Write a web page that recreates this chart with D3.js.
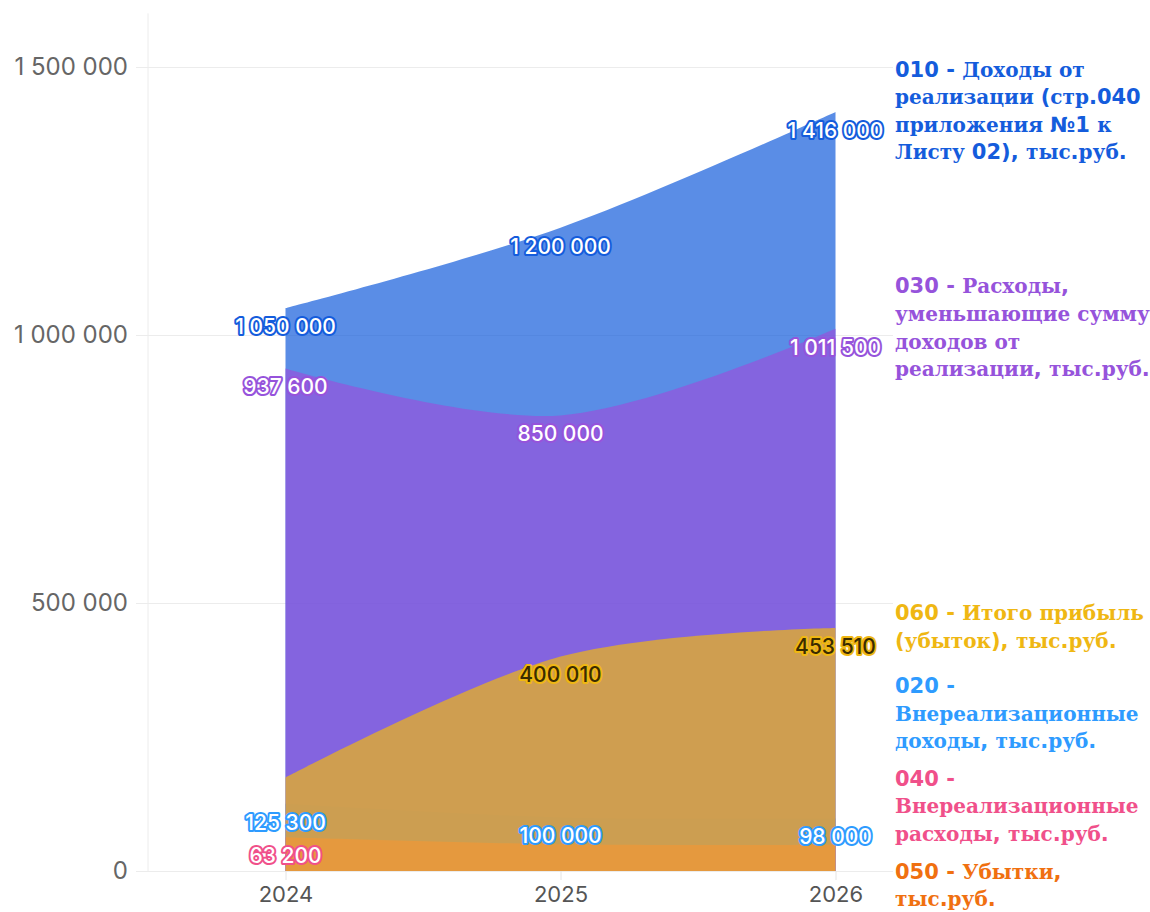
<!DOCTYPE html>
<html>
<head>
<meta charset="utf-8">
<script src="https://cdn.jsdelivr.net/npm/d3@7"></script>
<style>
  html, body { margin: 0; padding: 0; background: #fff; }
  svg { display: block; }
</style>
</head>
<body>
<svg id="chart" width="1150" height="912"></svg>
<script>
// years on the x axis
const years = ['2024', '2025', '2026'];
const yTicks = [0, 500000, 1000000, 1500000];

// series values (тыс.руб.)
const s010 = [1050000, 1200000, 1416000];
const s030 = [937600, 850000, 1011500];
const s020 = [125300, 100000, 98000];
const s040 = [63200, 49990, 48990];
const s060 = [174500, 400010, 453510];
const s050 = [0, 0, 0];

const codes = ['010', '030', '060', '020', '040', '050'];
const colors = ['#145cdc', '#9653db', '#efb713', '#2e9bff', '#f0508a', '#f07010'];
const valuesByCode = { '010': s010, '030': s030, '020': s020, '040': s040, '060': s060, '050': s050 };
// area paint order (bottom first)
const drawOrder = ['010', '020', '030', '040', '060', '050'];

const legendLines = {
  '010': ['010 - Доходы от', 'реализации (стр.040', 'приложения №1 к', 'Листу 02), тыс.руб.'],
  '030': ['030 - Расходы,', 'уменьшающие сумму', 'доходов от', 'реализации, тыс.руб.'],
  '060': ['060 - Итого прибыль', '(убыток), тыс.руб.'],
  '020': ['020 -', 'Внереализационные', 'доходы, тыс.руб.'],
  '040': ['040 -', 'Внереализационные', 'расходы, тыс.руб.'],
  '050': ['050 - Убытки,', 'тыс.руб.']
};

const color = code => colors[codes.indexOf(code)];
const fmt = d3.formatLocale({ decimal: ',', thousands: ' ', grouping: [3], currency: ['', ''] }).format(',d');

const svg = d3.select('#chart');
const plotLeft = 148, plotRight = 973, plotTop = 13.4, plotBottom = 871;

const x = d3.scalePoint().domain(years).range([plotLeft, plotRight]).padding(0.5);
const y = d3.scaleLinear().domain([0, 1600000]).range([plotBottom, plotTop]);

// grid
svg.append('g')
  .attr('class', 'grid')
  .attr('transform', `translate(${plotLeft},0)`)
  .call(d3.axisLeft(y).tickValues(yTicks).tickSize(-(plotRight - plotLeft + 12)).tickFormat(''))
  .call(g => g.select('.domain').remove())
  .call(g => g.selectAll('line').attr('stroke', '#ececec').attr('transform', 'translate(-12,0)'));

svg.append('line')
  .attr('x1', plotLeft).attr('x2', plotLeft).attr('y1', plotTop).attr('y2', plotBottom)
  .attr('stroke', '#ececec');

// y axis labels
svg.append('g')
  .attr('transform', `translate(${plotLeft},0)`)
  .call(d3.axisLeft(y).tickValues(yTicks).tickSize(12).tickPadding(8).tickFormat(fmt))
  .call(g => g.select('.domain').remove())
  .call(g => g.selectAll('line').attr('stroke', '#ececec'))
  .call(g => g.selectAll('text').attr('fill', '#666').style('font', '24px Inter, sans-serif'));

// x axis
svg.append('g')
  .attr('transform', `translate(0,${plotBottom})`)
  .call(d3.axisBottom(x).tickSize(9).tickPadding(6))
  .call(g => g.select('.domain').remove())
  .call(g => g.selectAll('line').attr('stroke', '#e4e4e4'))
  .call(g => g.selectAll('text').attr('fill', '#555').style('font', '22px Inter, sans-serif'));

// areas
const area = d3.area()
  .x((d, i) => x(years[i]))
  .y0(y(0))
  .y1(d => y(d))
  .curve(d3.curveCardinal.tension(0));

svg.append('g').selectAll('path')
  .data(drawOrder)
  .join('path')
  .attr('d', c => area(valuesByCode[c]))
  .attr('fill', c => color(c))
  .attr('fill-opacity', 0.7);

// data labels, dropping the ones that collide with an earlier label
const labelG = svg.append('g').style('font', '500 21px Inter, sans-serif');
const placed = [];
const pad = 4;
drawOrder.forEach(c => {
  valuesByCode[c].forEach((v, i) => {
    if (!v) return;
    const t = labelG.append('text')
      .attr('x', x(years[i]))
      .attr('y', y(v) + 20)
      .attr('text-anchor', 'middle')
      .attr('dominant-baseline', 'middle')
      .attr('fill', c === '060' ? '#3a2c00' : '#fff')
      .attr('stroke', color(c))
      .attr('stroke-width', 4)
      .attr('stroke-linejoin', 'round')
      .attr('paint-order', 'stroke')
      .text(fmt(v));
    const b = t.node().getBBox();
    const hit = placed.some(p => b.x < p.x + p.width && p.x < b.x + b.width &&
      b.y - pad < p.y + p.height && p.y - pad < b.y + b.height);
    if (hit) t.remove(); else placed.push(b);
  });
});

// legend at line ends, with simple collision handling
const lineH = 27.6, gap = 10, legendX = 895, maxBottom = 914;
const items = codes.map(c => {
  const vals = valuesByCode[c];
  const h = legendLines[c].length * lineH;
  return { c, h, top: y(vals[vals.length - 1]) - h / 2 };
}).sort((a, b) => a.top - b.top);
for (let i = 1; i < items.length; i++) {
  const prev = items[i - 1];
  items[i].top = Math.max(items[i].top, prev.top + prev.h + gap);
}
for (let i = items.length - 1; i >= 0; i--) {
  const limit = i === items.length - 1 ? maxBottom : items[i + 1].top - gap;
  if (items[i].top + items[i].h > limit) items[i].top = limit - items[i].h;
}

const cyr = /[\u0400-\u04FF]/;
const legend = svg.append('g');
items.forEach(it => {
  legendLines[it.c].forEach((line, k) => {
    const cy = it.top + lineH * (k + 0.5);
    const row = legend.append('g');
    const t = row.append('text')
      .attr('x', legendX)
      .attr('y', cy)
      .attr('dominant-baseline', 'middle')
      .attr('fill', color(it.c))
      .style('font-weight', 700);
    // split into runs: cyrillic in serif, the rest in sans
    const runs = [];
    for (const ch of line) {
      const isCyr = cyr.test(ch) || (ch === ' ' && runs.length && runs[runs.length - 1].cyr);
      if (runs.length && runs[runs.length - 1].cyr === isCyr) runs[runs.length - 1].s += ch;
      else runs.push({ cyr: isCyr, s: ch });
    }
    runs.forEach(r => {
      t.append('tspan')
        .style('font-family', r.cyr ? '"DejaVu Serif", serif' : '"DejaVu Sans", sans-serif')
        .style('font-size', r.cyr ? '20px' : '21px')
        .text(r.s);
    });
    const bb = t.node().getBBox();
    row.insert('rect', 'text')
      .attr('x', bb.x - 2).attr('y', bb.y)
      .attr('width', bb.width + 4).attr('height', bb.height)
      .attr('fill', '#fff');
  });
});
</script>
</body>
</html>
